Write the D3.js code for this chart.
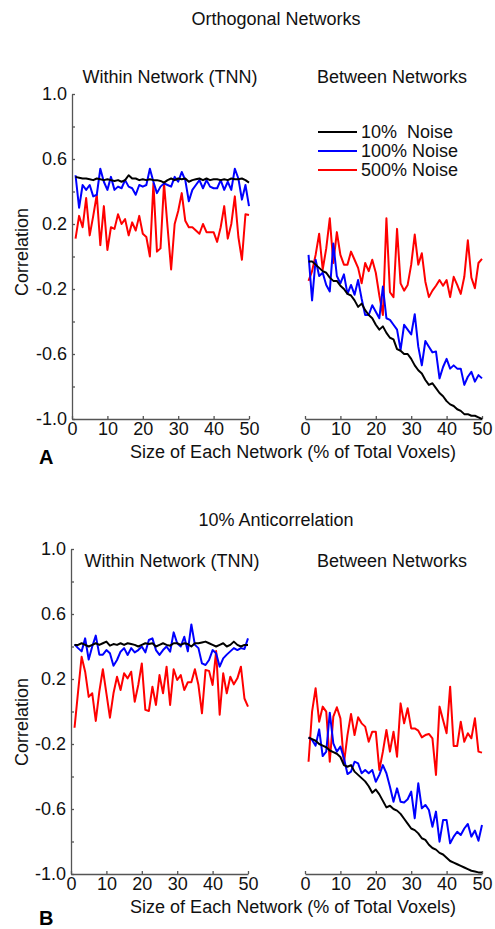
<!DOCTYPE html>
<html>
<head>
<meta charset="utf-8">
<script src="https://cdn.jsdelivr.net/npm/d3@7"></script>
<style>
  body{margin:0;background:#fff;}
  svg{display:block;font-family:"Liberation Sans",Arial,Helvetica,sans-serif;}
</style>
</head>
<body>
<script>
// x values: size of each network (% of total voxels)
let sizes = [1,2,3,4,5,6,7,8,9,10,11,12,13,14,15,16,17,18,19,20,21,22,23,24,25,
  26,27,28,29,30,31,32,33,34,35,36,37,38,39,40,41,42,43,44,45,46,47,48,49,50];

let noiseLevels = ["10%  Noise", "100% Noise", "500% Noise"];
let noiseColors = ["#000000", "#0000ff", "#ff0000"];

let yTicksMajor = [1.0, 0.6, 0.2, -0.2, -0.6, -1.0];
let yTicksMinor = [0.8, 0.4, 0.0, -0.4, -0.8];
let xTicks = [0, 10, 20, 30, 40, 50];

// A - orthogonal networks
let orthWithin10 = [0.49,0.485,0.48,0.48,0.475,0.47,0.48,0.475,0.47,0.475,0.47,0.465,0.47,0.46,0.47,0.50,0.48,0.48,0.47,0.475,
  0.47,0.475,0.47,0.47,0.465,0.455,0.47,0.48,0.47,0.48,0.475,0.48,0.46,0.47,0.475,0.48,0.47,0.48,0.47,0.475,
  0.475,0.47,0.475,0.47,0.48,0.475,0.475,0.48,0.47,0.455];
let orthWithin100 = [0.50,0.30,0.44,0.41,0.44,0.37,0.38,0.54,0.46,0.41,0.49,0.41,0.43,0.42,0.47,0.43,0.42,0.38,0.44,0.43,
  0.44,0.54,0.46,0.39,0.43,0.45,0.44,0.43,0.49,0.46,0.52,0.47,0.34,0.41,0.44,0.47,0.42,0.47,0.43,0.42,
  0.42,0.47,0.41,0.46,0.41,0.54,0.48,0.35,0.44,0.31];
let orthWithin500 = [0.11,0.25,0.18,0.36,0.13,0.25,0.38,0.07,0.31,0.04,0.18,0.17,0.26,0.20,0.23,0.13,0.21,0.16,0.25,0.14,
  0.12,0.00,0.45,0.03,0.05,0.45,0.18,-0.08,0.20,0.28,0.39,0.22,0.18,0.18,0.16,0.14,0.20,0.15,0.15,0.15,
  0.09,0.18,0.31,0.11,0.20,0.37,0.12,-0.02,0.26,0.255];
let orthBetween10 = [-0.03,-0.03,-0.05,-0.07,-0.09,-0.10,-0.13,-0.15,-0.15,-0.18,-0.20,-0.23,-0.24,-0.27,-0.31,-0.29,-0.33,-0.36,-0.38,-0.42,
  -0.45,-0.43,-0.47,-0.50,-0.51,-0.57,-0.58,-0.60,-0.60,-0.63,-0.67,-0.70,-0.72,-0.76,-0.79,-0.78,-0.81,-0.84,-0.86,-0.89,
  -0.91,-0.92,-0.94,-0.95,-0.97,-0.97,-0.98,-0.98,-0.99,-1.00];
let orthBetween100 = [0.01,-0.27,-0.02,-0.12,-0.10,-0.175,-0.215,0.08,-0.12,-0.165,-0.11,-0.23,-0.175,-0.235,-0.145,-0.26,-0.36,-0.36,-0.30,-0.34,
  -0.38,-0.185,-0.38,-0.39,-0.42,-0.45,-0.575,-0.42,-0.45,-0.48,-0.355,-0.555,-0.67,-0.52,-0.555,-0.59,-0.585,-0.75,-0.68,-0.63,
  -0.69,-0.67,-0.69,-0.69,-0.79,-0.74,-0.71,-0.77,-0.73,-0.75];
let orthBetween500 = [-0.15,-0.09,0.01,0.14,-0.08,0.05,0.235,-0.04,0.15,0.01,-0.05,-0.05,0.03,-0.02,-0.07,-0.165,-0.04,-0.09,-0.02,-0.10,
  -0.24,-0.36,0.235,-0.22,-0.25,0.17,-0.165,-0.21,-0.175,-0.05,0.135,-0.05,0.02,-0.155,-0.25,-0.21,-0.18,-0.145,-0.18,-0.145,
  -0.25,-0.125,-0.175,-0.23,-0.125,0.10,-0.13,-0.195,-0.04,-0.015];

// B - 10% anticorrelation
let antiWithin10 = [0.41,0.41,0.42,0.41,0.40,0.41,0.42,0.41,0.42,0.43,0.405,0.415,0.41,0.42,0.41,0.42,0.415,0.41,0.40,0.41,
  0.42,0.415,0.42,0.40,0.41,0.42,0.41,0.405,0.42,0.42,0.41,0.42,0.415,0.40,0.42,0.42,0.425,0.43,0.42,0.41,
  0.40,0.41,0.42,0.40,0.41,0.43,0.41,0.40,0.41,0.41];
let antiWithin100 = [0.413,0.39,0.37,0.45,0.32,0.40,0.467,0.35,0.35,0.378,0.358,0.282,0.317,0.368,0.39,0.348,0.39,0.364,0.378,0.40,
  0.364,0.44,0.45,0.378,0.348,0.378,0.40,0.368,0.487,0.42,0.40,0.46,0.37,0.536,0.41,0.39,0.296,0.286,0.317,0.378,
  0.358,0.276,0.327,0.35,0.37,0.39,0.378,0.39,0.385,0.45];
let antiWithin500 = [-0.10,0.122,0.337,0.245,0.09,0.112,-0.058,0.122,0.26,0.112,-0.038,0.112,0.214,0.132,0.235,0.204,0.245,0.06,0.163,0.296,
  0.01,0.003,0.153,0.04,0.224,0.112,0.276,0.04,0.26,0.194,0.224,0.132,0.18,0.18,0.26,0.163,-0.011,0.255,0.25,0.163,
  0.372,-0.02,0.235,0.112,0.214,0.167,0.204,0.276,0.08,0.03];
let antiBetween10 = [-0.16,-0.17,-0.18,-0.20,-0.21,-0.22,-0.24,-0.25,-0.26,-0.28,-0.33,-0.34,-0.33,-0.37,-0.39,-0.41,-0.43,-0.46,-0.50,-0.48,
  -0.51,-0.55,-0.59,-0.58,-0.60,-0.61,-0.63,-0.66,-0.69,-0.72,-0.73,-0.75,-0.78,-0.79,-0.82,-0.84,-0.85,-0.87,-0.88,-0.90,
  -0.92,-0.93,-0.94,-0.95,-0.96,-0.97,-0.98,-0.985,-0.99,-0.99];
let antiBetween100 = [-0.16,-0.175,-0.21,-0.11,-0.274,-0.247,-0.007,-0.196,-0.247,-0.216,-0.288,-0.385,-0.37,-0.309,-0.319,-0.38,-0.36,-0.38,-0.36,-0.432,
  -0.39,-0.33,-0.38,-0.463,-0.555,-0.473,-0.555,-0.56,-0.54,-0.493,-0.657,-0.442,-0.596,-0.575,-0.606,-0.709,-0.616,-0.801,-0.668,-0.668,
  -0.811,-0.77,-0.74,-0.76,-0.72,-0.692,-0.77,-0.733,-0.795,-0.698];
let antiBetween500 = [-0.309,-0.001,0.143,-0.063,0.03,-0.001,-0.309,-0.032,0.026,-0.042,-0.319,-0.145,-0.015,-0.145,-0.036,-0.073,-0.093,-0.186,-0.124,-0.124,
  -0.36,-0.247,-0.114,-0.247,-0.124,-0.278,0.05,-0.073,0.02,-0.104,-0.104,-0.118,-0.159,-0.145,-0.138,-0.165,-0.39,0.03,-0.052,-0.134,
  0.153,-0.212,-0.212,-0.063,-0.186,-0.134,-0.165,-0.042,-0.247,-0.253];

let fontSize = "18px";
let axisColor = "#555";
let textColor = "#111";

let svg = d3.select("body").append("svg").attr("width", 495).attr("height", 929);

function drawFigure(fig){
  let y = d3.scaleLinear().domain([-1, 1]).range([fig.bottom, fig.top]);
  let xLeft = d3.scaleLinear().domain([0, 50]).range(fig.leftX);
  let xRight = d3.scaleLinear().domain([0, 50]).range(fig.rightX);

  // figure title
  svg.append("text").attr("x", 276).attr("y", fig.titleY)
    .attr("text-anchor", "middle").style("font-size", fontSize).attr("fill", textColor)
    .text(fig.title);

  // y axis (only on the left panel), ticks point inward, plain hyphen for minus
  svg.append("g").attr("transform", "translate(" + fig.leftX[0] + ",0)")
    .call(d3.axisLeft(y).tickValues(yTicksMajor).tickFormat(d => d.toFixed(1))
      .tickSizeInner(-3).tickSizeOuter(0).tickPadding(5));
  svg.append("g").attr("transform", "translate(" + fig.leftX[0] + ",0)")
    .call(d3.axisLeft(y).tickValues(yTicksMinor).tickFormat("").tickSizeInner(-3).tickSizeOuter(0))
    .call(g => g.select(".domain").remove());

  // x axes for both panels
  [xLeft, xRight].forEach(x => {
    svg.append("g").attr("transform", "translate(0," + fig.bottom + ")")
      .call(d3.axisBottom(x).tickValues(xTicks).tickSizeInner(-3).tickSizeOuter(0).tickPadding(3));
  });

  svg.selectAll(".tick text").style("font-size", fontSize).style("font-family", "inherit").attr("fill", textColor);
  svg.selectAll(".domain, .tick line").attr("stroke", axisColor).attr("stroke-width", 1.3);

  // panel titles
  svg.append("text").attr("x", fig.withinX).attr("y", fig.panelTitleY)
    .attr("text-anchor", "middle").style("font-size", fontSize).attr("fill", textColor)
    .text("Within Network (TNN)");
  svg.append("text").attr("x", 392).attr("y", fig.panelTitleY)
    .attr("text-anchor", "middle").style("font-size", fontSize).attr("fill", textColor)
    .text("Between Networks");

  // axis labels
  svg.append("text")
    .attr("transform", "translate(28," + fig.corrY + ") rotate(-90)")
    .attr("text-anchor", "middle").style("font-size", fontSize).attr("fill", textColor)
    .text("Correlation");
  svg.append("text").attr("x", 293).attr("y", fig.xLabelY)
    .attr("text-anchor", "middle").style("font-size", fontSize).attr("fill", textColor)
    .text("Size of Each Network (% of Total Voxels)");

  svg.append("text").attr("x", 39).attr("y", fig.letterY)
    .style("font-size", "20px").style("font-weight", "bold").attr("fill", "#000")
    .text(fig.letter);

  // lines; draw 500% first so that black ends up on top
  function drawLines(x, series){
    let line = d3.line().x((d, i) => x(sizes[i])).y(d => y(d));
    [2, 1, 0].forEach(k => {
      svg.append("path").datum(series[k])
        .attr("d", line)
        .attr("fill", "none")
        .attr("stroke", noiseColors[k])
        .attr("stroke-width", 2)
        .attr("stroke-linejoin", "round");
    });
  }
  drawLines(xLeft, fig.within);
  drawLines(xRight, fig.between);

  if (fig.legend){
    let legend = svg.append("g").attr("transform", "translate(318,132)");
    noiseLevels.forEach((d, i) => {
      let row = legend.append("g").attr("transform", "translate(0," + (i * 19) + ")");
      row.append("line").attr("x1", 0).attr("x2", 39).attr("y1", 0).attr("y2", 0)
        .attr("stroke", noiseColors[i]).attr("stroke-width", 2);
      row.append("text").attr("x", 43).attr("y", 6)
        .style("font-size", fontSize).style("white-space", "pre").attr("fill", textColor)
        .text(d);
    });
  }
}

drawFigure({
  title: "Orthogonal Networks", titleY: 25,
  top: 94, bottom: 419, leftX: [72, 249], rightX: [305, 482],
  withinX: 170, panelTitleY: 83, corrY: 252, xLabelY: 458,
  letter: "A", letterY: 464, legend: true,
  within: [orthWithin10, orthWithin100, orthWithin500],
  between: [orthBetween10, orthBetween100, orthBetween500]
});

drawFigure({
  title: "10% Anticorrelation", titleY: 526,
  top: 549, bottom: 874, leftX: [71, 248], rightX: [305, 482],
  withinX: 172, panelTitleY: 567, corrY: 722, xLabelY: 913,
  letter: "B", letterY: 925, legend: false,
  within: [antiWithin10, antiWithin100, antiWithin500],
  between: [antiBetween10, antiBetween100, antiBetween500]
});
</script>
</body>
</html>
